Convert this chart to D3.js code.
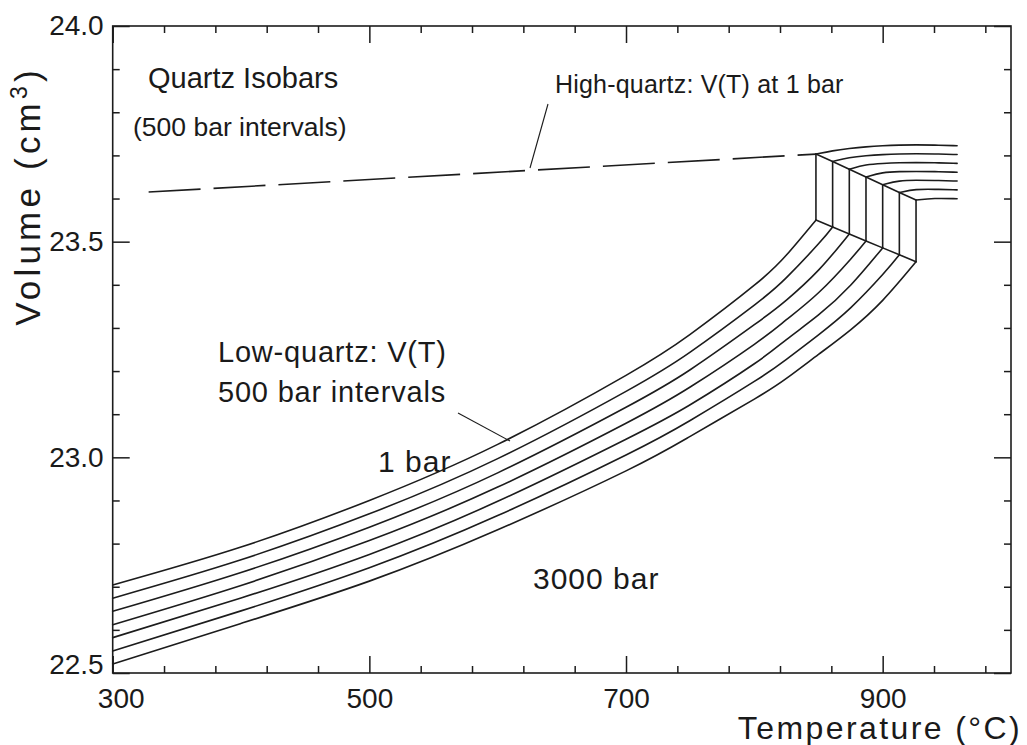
<!DOCTYPE html>
<html>
<head>
<meta charset="utf-8">
<script src="https://cdn.jsdelivr.net/npm/d3@7"></script>
<style>
  html, body { margin: 0; padding: 0; background: #ffffff; }
  svg { display: block; }
  text { font-family: "Liberation Sans", Arial, Helvetica, sans-serif; fill: #1a1a1a; }
</style>
</head>
<body>
<svg id="chart" width="1027" height="745"></svg>
<script>
// ---------------- data ----------------
const pressureLabels = ["1 bar", "500 bar", "1000 bar", "1500 bar", "2000 bar", "2500 bar", "3000 bar"];

// Low-quartz isobars: temperature (°C) and volume (cm3)
const lowQuartzT = [
  [300, 400, 500, 600, 700, 750, 800, 825, 848],
  [300, 400, 500, 600, 700, 750, 800, 825, 850, 861],
  [300, 400, 500, 600, 700, 750, 800, 825, 850, 874],
  [300, 400, 500, 600, 700, 750, 800, 825, 850, 875, 887],
  [300, 400, 500, 600, 700, 750, 800, 825, 850, 875, 900],
  [300, 400, 500, 600, 700, 750, 800, 825, 850, 875, 900, 913],
  [300, 400, 500, 600, 700, 750, 800, 825, 850, 875, 900, 926]
];
const lowQuartzV = [
  [22.704, 22.792, 22.900, 23.030, 23.190, 23.285, 23.399, 23.469, 23.550],
  [22.6735, 22.7625, 22.869, 22.997, 23.153, 23.244, 23.353, 23.4165, 23.495, 23.534],
  [22.643, 22.733, 22.838, 22.964, 23.116, 23.203, 23.3075, 23.3645, 23.434, 23.518],
  [22.612, 22.703, 22.807, 22.931, 23.079, 23.163, 23.262, 23.319, 23.3815, 23.4594, 23.5017],
  [22.582, 22.674, 22.775, 22.898, 23.042, 23.122, 23.217, 23.273, 23.330, 23.399, 23.4856],
  [22.551, 22.644, 22.744, 22.865, 23.0055, 23.0855, 23.176, 23.227, 23.284, 23.3465, 23.4237, 23.4695],
  [22.521, 22.615, 22.713, 22.832, 22.9686, 23.0486, 23.135, 23.183, 23.2386, 23.2956, 23.364, 23.4534]
];

// High-quartz isobars
const highQuartzT = [
  [848, 861, 874, 887, 900, 913, 926, 940, 958],
  [861, 874, 887, 900, 913, 926, 940, 958],
  [874, 887, 900, 913, 926, 940, 958],
  [887, 900, 913, 926, 940, 958],
  [900, 913, 926, 940, 958],
  [913, 926, 940, 958],
  [926, 940, 958]
];
const highQuartzV = [
  [23.703, 23.711, 23.716, 23.720, 23.7225, 23.724, 23.7245, 23.724, 23.7225],
  [23.686, 23.6955, 23.6995, 23.702, 23.7035, 23.704, 23.7035, 23.702],
  [23.668, 23.679, 23.6815, 23.683, 23.6835, 23.683, 23.6815],
  [23.650, 23.661, 23.6625, 23.663, 23.6625, 23.661],
  [23.632, 23.642, 23.6425, 23.642, 23.6405],
  [23.614, 23.622, 23.6215, 23.620],
  [23.5965, 23.601, 23.5995]
];

// High-quartz V(T) at 1 bar extrapolated (dashed)
const dashedT = [328, 848];
const dashedV = [23.615, 23.703];

// Axis ticks
const xMajorTicks = [300, 500, 700, 900];
const xMajorLabels = ["300", "500", "700", "900"];
const xMinorTicks = [340, 380, 420, 460, 540, 580, 620, 660, 740, 780, 820, 860, 940, 980];
const yMajorTicks = [22.5, 23.0, 23.5, 24.0];
const yMajorLabels = ["22.5", "23.0", "23.5", "24.0"];
const yMinorTicks = [22.6, 22.7, 22.8, 22.9, 23.1, 23.2, 23.3, 23.4, 23.6, 23.7, 23.8, 23.9];

// ---------------- drawing ----------------
const svg = d3.select("#chart");
const L = 112.7, R = 1011, T = 26, B = 673;
const W = R - L, H = B - T;

const x = d3.scaleLinear().domain([300, 1000]).range([L, R]);
const y = d3.scaleLinear().domain([22.5, 24.0]).range([B, T]);

const ink = "#1c1c1c";
const g = svg.append("g");

// frame
g.append("rect").attr("x", L).attr("y", T).attr("width", W).attr("height", H)
  .attr("fill", "none").attr("stroke", ink).attr("stroke-width", 1.6);

function styleAxis(sel) {
  sel.select(".domain").remove();
  sel.selectAll(".tick line").attr("stroke", ink).attr("stroke-width", 1.5);
}

const MAJ = 17, MIN = 7;
// bottom
g.append("g").attr("transform", `translate(0,${B})`)
  .call(d3.axisBottom(x).tickValues(xMajorTicks).tickSize(-MAJ).tickPadding(15)
        .tickFormat((d, i) => xMajorLabels[i]))
  .call(styleAxis)
  .call(s => s.selectAll("text").attr("font-size", 28).attr("fill", ink)
        .attr("font-family", "Liberation Sans, Arial, sans-serif")
        .attr("dx", (d) => d === 300 ? 8 : 0));
g.append("g").attr("transform", `translate(0,${B})`)
  .call(d3.axisBottom(x).tickValues(xMinorTicks).tickSize(-MIN).tickFormat(""))
  .call(styleAxis);
// top
g.append("g").attr("transform", `translate(0,${T})`)
  .call(d3.axisTop(x).tickValues(xMajorTicks).tickSize(-MAJ).tickFormat(""))
  .call(styleAxis);
g.append("g").attr("transform", `translate(0,${T})`)
  .call(d3.axisTop(x).tickValues(xMinorTicks).tickSize(-MIN).tickFormat(""))
  .call(styleAxis);
// left
g.append("g").attr("transform", `translate(${L},0)`)
  .call(d3.axisLeft(y).tickValues(yMajorTicks).tickSize(-MAJ).tickPadding(9)
        .tickFormat((d, i) => yMajorLabels[i]))
  .call(styleAxis)
  .call(s => s.selectAll("text").attr("font-size", 28).attr("fill", ink)
        .attr("font-family", "Liberation Sans, Arial, sans-serif")
        .attr("dy", (d) => d === 22.5 ? "0.02em" : "0.32em"));
g.append("g").attr("transform", `translate(${L},0)`)
  .call(d3.axisLeft(y).tickValues(yMinorTicks).tickSize(-MIN).tickFormat(""))
  .call(styleAxis);
// right
g.append("g").attr("transform", `translate(${R},0)`)
  .call(d3.axisRight(y).tickValues(yMajorTicks).tickSize(-MAJ).tickFormat(""))
  .call(styleAxis);
g.append("g").attr("transform", `translate(${R},0)`)
  .call(d3.axisRight(y).tickValues(yMinorTicks).tickSize(-MIN).tickFormat(""))
  .call(styleAxis);

// axis titles
g.append("text")
  .attr("x", 1022).attr("y", 739)
  .attr("text-anchor", "end")
  .attr("font-size", 32)
  .attr("letter-spacing", 2.4)
  .text("Temperature (°C)");

const yt = g.append("text")
  .attr("transform", "translate(40,196) rotate(-90)")
  .attr("text-anchor", "middle")
  .attr("font-size", 35)
  .attr("letter-spacing", 4.2);
yt.append("tspan").text("Volume  (cm");
yt.append("tspan").attr("font-size", 23).attr("dy", -13).text("3");
yt.append("tspan").attr("dy", 13).text(")");

// curves
const lowLine = d3.line().x(d => x(d[0])).y(d => y(d[1])).curve(d3.curveNatural);
const highLine = d3.line().x(d => x(d[0])).y(d => y(d[1])).curve(d3.curveBasis);
const curveStyle = s => s.attr("fill", "none").attr("stroke", ink).attr("stroke-width", 1.6)
  .attr("stroke-linejoin", "round").attr("stroke-linecap", "round");

lowQuartzT.forEach((ts, k) => {
  const pts = ts.map((t, i) => [t, lowQuartzV[k][i]]);
  g.append("path").datum(pts).attr("d", lowLine).call(curveStyle);
});
highQuartzT.forEach((ts, k) => {
  const pts = ts.map((t, i) => [t, highQuartzV[k][i]]);
  g.append("path").datum(pts).attr("d", highLine).call(curveStyle);
});

// transition verticals and connecting slants
const lowEnds = lowQuartzT.map((ts, k) => [ts[ts.length - 1], lowQuartzV[k][ts.length - 1]]);
const highStarts = highQuartzT.map((ts, k) => [ts[0], highQuartzV[k][0]]);
const straight = d3.line().x(d => x(d[0])).y(d => y(d[1]));
lowEnds.forEach((p, k) => {
  g.append("path").datum([p, highStarts[k]]).attr("d", straight).call(curveStyle);
});
g.append("path").datum(lowEnds).attr("d", straight).call(curveStyle);
g.append("path").datum(highStarts).attr("d", straight).call(curveStyle);

// dashed high-quartz extrapolation
g.append("path").datum(dashedT.map((t, i) => [t, dashedV[i]])).attr("d", straight)
  .attr("fill", "none").attr("stroke", ink).attr("stroke-width", 1.6)
  .attr("stroke-dasharray", "52,13");

// annotations
function label(tx, ty, txt, size, ls) {
  g.append("text").attr("x", tx).attr("y", ty).attr("font-size", size)
    .attr("letter-spacing", ls).text(txt);
}
label(148, 88, "Quartz Isobars", 29, 0);
label(133, 136, "(500 bar intervals)", 26.5, 0);
label(555, 93, "High-quartz: V(T) at 1 bar", 25, 0.2);
label(218, 362, "Low-quartz: V(T)", 29, 0.8);
label(218, 402, "500 bar intervals", 29, 0.8);
label(378, 472, "1 bar", 30, 1);
label(533, 589, "3000 bar", 30, 1);

// leader lines
const leader = s => s.attr("stroke", ink).attr("stroke-width", 1.1);
g.append("line").attr("x1", 548).attr("y1", 104).attr("x2", 530).attr("y2", 168).call(leader);
g.append("line").attr("x1", 458).attr("y1", 413).attr("x2", 510).attr("y2", 441).call(leader);
</script>
</body>
</html>
